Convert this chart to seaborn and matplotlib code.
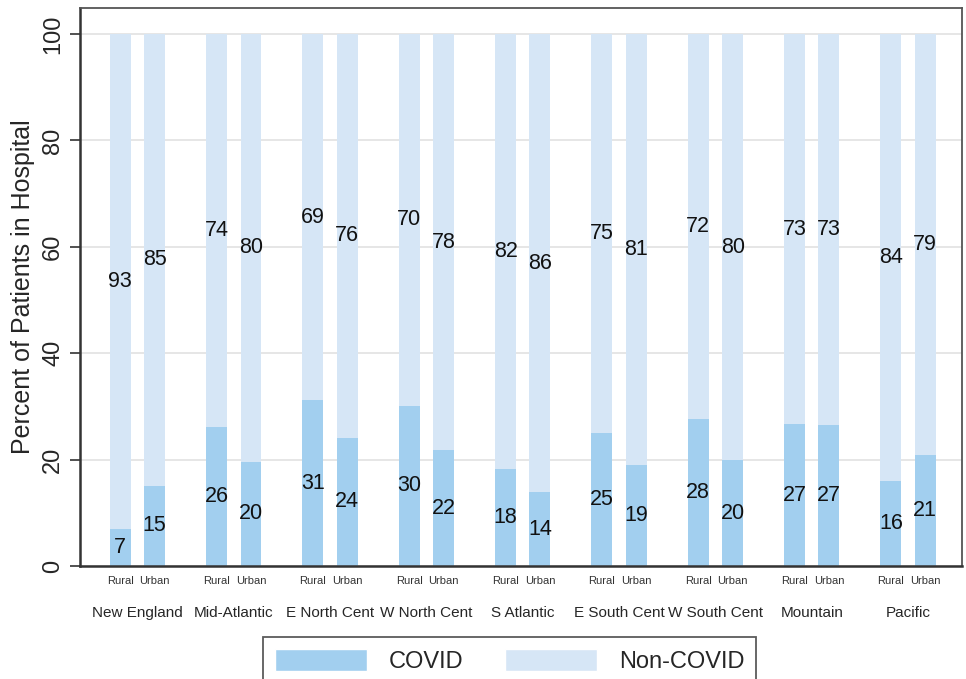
import pandas as pd
import matplotlib.pyplot as plt
from matplotlib.patches import Patch
import seaborn as sns

# Census regions and rural/urban split
regions = ['New England', 'Mid-Atlantic', 'E North Cent', 'W North Cent', 'S Atlantic',
           'E South Cent', 'W South Cent', 'Mountain', 'Pacific']
areas = ['Rural', 'Urban']

# Percent of hospital patients
covid_rural = [7.0, 26.1, 31.2, 30.1, 18.3, 25.0, 27.6, 26.7, 16.0]
covid_urban = [15.1, 19.6, 24.1, 21.8, 13.9, 19.0, 19.9, 26.6, 20.9]
noncovid_rural = [93.0, 73.9, 68.8, 69.9, 81.7, 75.0, 72.4, 73.3, 84.0]
noncovid_urban = [84.9, 80.4, 75.9, 78.2, 86.1, 81.0, 80.1, 73.4, 79.1]

covid_color = '#a2cfef'
noncovid_color = '#d6e6f6'

# long table for seaborn
rows = []
for i, reg in enumerate(regions):
    rows.append([reg, 'Rural', covid_rural[i], noncovid_rural[i]])
    rows.append([reg, 'Urban', covid_urban[i], noncovid_urban[i]])
df = pd.DataFrame(rows, columns=['region', 'area', 'covid', 'noncovid'])
df['total'] = df['covid'] + df['noncovid']

sns.set_style('white')
plt.rcParams['font.family'] = ['Liberation Sans', 'DejaVu Sans']

fig = plt.figure(figsize=(9.66, 6.79), dpi=100)
ax = fig.add_axes([0.0828, 0.1664, 0.9131, 0.8218])

bar_kws = dict(x='region', hue='area', order=regions, hue_order=areas, width=0.714,
               gap=0.39, dodge=True, legend=False, errorbar=None, saturation=1,
               linewidth=0, ax=ax)
# stacked look: full bar (COVID + Non-COVID) then COVID on top
sns.barplot(data=df, y='total', palette=[noncovid_color, noncovid_color], **bar_kws)
sns.barplot(data=df, y='covid', palette=[covid_color, covid_color], **bar_kws)

# value labels in the middle of each segment
centers, minor_labels = [], []
for h, area in enumerate(areas):
    sub = df[df['area'] == area].set_index('region').loc[regions]
    for p, (c, n) in zip(ax.containers[h], zip(sub['covid'], sub['noncovid'])):
        xc = p.get_x() + p.get_width() / 2
        centers.append(xc)
        minor_labels.append(area)
        ax.text(xc, c / 2, f'{c:.0f}', ha='center', va='center', fontsize=15.5, color='#111111')
        ax.text(xc, c + n / 2, f'{n:.0f}', ha='center', va='center', fontsize=15.5, color='#111111')

ax.set_xlim(-0.597, 8.56)
ax.set_ylim(0, 104.9)
ax.set_yticks([0, 20, 40, 60, 80, 100])
ax.tick_params(axis='y', which='major', length=7.5, width=1.2, color='#333333',
               labelsize=17, pad=4, left=True)
for t in ax.get_yticklabels():
    t.set_rotation(90)
    t.set_va('center')

ax.set_xticks(centers, minor=True)
ax.set_xticklabels(minor_labels, minor=True, fontsize=8, color='#333333')
ax.tick_params(axis='x', which='minor', length=0, pad=7)
ax.tick_params(axis='x', which='major', length=0, pad=29, labelsize=11)
ax.set_xlabel('')
ax.set_ylabel('Percent of Patients in Hospital', fontsize=18, labelpad=5)

ax.yaxis.grid(True, color='#e2e2e2', linewidth=1.2)
ax.set_axisbelow(True)
for side in ['left', 'bottom']:
    ax.spines[side].set_color('#333333')
    ax.spines[side].set_linewidth(1.8)
for side in ['top', 'right']:
    ax.spines[side].set_color('#555555')
    ax.spines[side].set_linewidth(1.3)

handles = [Patch(facecolor=covid_color, label='COVID'),
           Patch(facecolor=noncovid_color, label='Non-COVID')]
leg = fig.legend(handles=handles, loc='upper center', bbox_to_anchor=(0.5275, 1 - 637 / 679),
                 borderaxespad=0, ncol=2, fontsize=17, frameon=True, fancybox=False,
                 handlelength=3.9, handleheight=1.1, handletextpad=0.9, columnspacing=1.8,
                 borderpad=0.5)
leg.get_frame().set_edgecolor('#333333')
leg.get_frame().set_linewidth(1.3)

fig.savefig('out.png', dpi=100)
